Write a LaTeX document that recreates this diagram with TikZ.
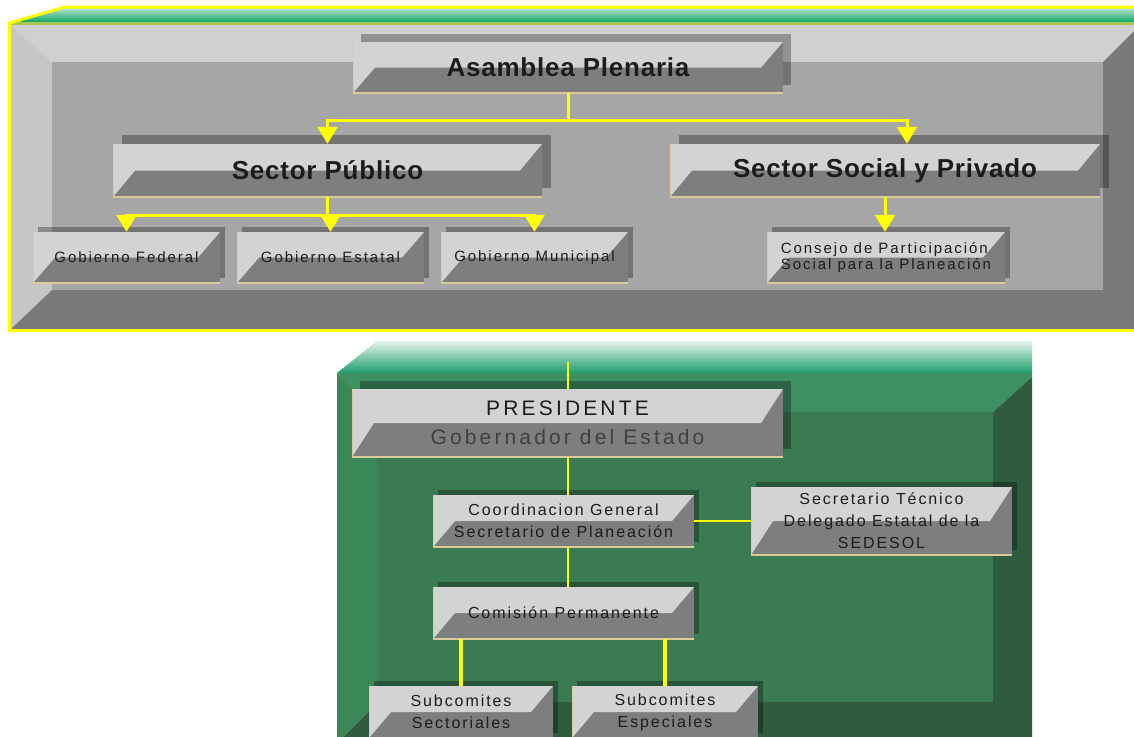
\documentclass[tikz,border=0pt]{standalone}
\usepackage{fontspec}
\setmainfont{Liberation Sans}
\usetikzlibrary{arrows.meta,shadows,calc}
\definecolor{blight}{HTML}{D3D3D3}
\definecolor{bdark}{HTML}{7E7E7E}
\definecolor{bedge}{HTML}{D9CC99}
\definecolor{yel}{HTML}{FFFF00}
\definecolor{txt}{HTML}{1C1C1C}
\definecolor{band1}{HTML}{B8E4CC}
\definecolor{band2}{HTML}{00A060}
\definecolor{bandline}{HTML}{A8C850}
\definecolor{gtop}{HTML}{D0D0D0}
\definecolor{gleft}{HTML}{C6C6C6}
\definecolor{gdark}{HTML}{7A7A7A}
\definecolor{gface}{HTML}{A6A6A6}
\definecolor{gband1}{HTML}{E4F3EA}
\definecolor{gband2}{HTML}{1E9E6C}
\definecolor{gga}{HTML}{3E9062}
\definecolor{ggb}{HTML}{3A8858}
\definecolor{ggc}{HTML}{2F5B3F}
\definecolor{ggd}{HTML}{3A7B51}
\newcommand\hdrfont{\fontsize{26}{28}\selectfont\bfseries\addfontfeature{LetterSpace=3}}
\newcommand\smfont{\fontsize{15}{15.5}\selectfont\addfontfeature{LetterSpace=13}}
\newcommand\mdfont{\fontsize{16}{22}\selectfont\addfontfeature{LetterSpace=12}}
\newcommand\lgfont{\fontsize{21}{29}\selectfont\addfontfeature{LetterSpace=15}}
\tikzset{
  bev/.style={rectangle, inner sep=0pt, fill=bdark, text=txt, align=center,
    path picture={
      \fill[blight] (path picture bounding box.north west) -- (path picture bounding box.north east)
        -- ([xshift=-22pt]path picture bounding box.east) -- ([xshift=22pt]path picture bounding box.west)
        -- (path picture bounding box.south west) -- cycle;
      \draw[bedge, line width=1.5pt] (path picture bounding box.north west) -- (path picture bounding box.south west)
        -- (path picture bounding box.south east);
    }},
  shad/.style={general shadow={fill=black, opacity=.3, shadow xshift=#1, shadow yshift=#1}},
  yl/.style={draw=yel, line width=3pt},
  ythin/.style={draw=yel, line width=2pt},
  ythick/.style={draw=yel, line width=4pt},
  ya/.style={yl, -{Triangle[width=20pt,length=17pt]}},
}
\begin{document}
\begin{tikzpicture}[x=1pt,y=-1pt]
\useasboundingbox (0,0) rectangle (1134,736);
\clip (0,0) rectangle (1134,736);
\fill[white] (0,0) rectangle (1134,736);
% ---------- top panel ----------
\shade[top color=band1, bottom color=band2] (65,8) -- (1134,8) -- (1134,23) -- (10,23) -- cycle;
\fill[bandline] (10,22) rectangle (1134,25);
\fill[gtop] (10,25) -- (1134,25) -- (1134,31) -- (1103,62) -- (52,62) -- cycle;
\fill[gleft] (10,25) -- (52,62) -- (52,290) -- (10,330) -- cycle;
\fill[gdark] (10,330) -- (52,290) -- (1103,290) -- (1103,62) -- (1134,31) -- (1134,330) -- cycle;
\fill[gface] (52,62) rectangle (1103,290);
\draw[yel, line width=3pt] (1134,7) -- (65,7) -- (9.5,23) -- (9.5,330.5) -- (1134,330.5);
% ---------- bottom panel ----------
\shade[top color=gband1, bottom color=gband2] (377,341) -- (1032,341) -- (1032,373) -- (337,373) -- cycle;
\fill[gga] (337,373) -- (1032,373) -- (1032,377) -- (993,412) -- (378,412) -- cycle;
\fill[ggb] (337,373) -- (378,412) -- (378,702) -- (337,743) -- cycle;
\fill[ggc] (337,743) -- (378,702) -- (993,702) -- (993,412) -- (1032,377) -- (1032,743) -- cycle;
\fill[ggd] (378,412) rectangle (993,702);
% ---------- nodes: top ----------
\node[bev, shad=8pt, minimum width=430pt, minimum height=51pt, font=\hdrfont] (asamblea) at (568,67.5) {Asamblea Plenaria};
\node[bev, shad=9pt, minimum width=429pt, minimum height=53pt, font=\hdrfont] (sp) at (327.5,170.5) {Sector Público};
\node[bev, shad=9pt, minimum width=430pt, minimum height=53pt, font=\hdrfont] (ssp) at (885,170.5) {Sector Social y Privado};
\node[bev, shad=5pt, minimum width=187pt, minimum height=51pt, font=\smfont] (gf) at (126.5,257.5) {Gobierno Federal};
\node[bev, shad=5pt, minimum width=187pt, minimum height=51pt, font=\smfont] (ge) at (330.5,257.5) {Gobierno Estatal};
\node[bev, shad=5pt, minimum width=187pt, minimum height=51pt, font=\smfont] (gm) at (534.5,257.5) {Gobierno Municipal};
\node[bev, shad=5pt, minimum width=238pt, minimum height=51pt, font=\smfont, align=left] (cons) at (886,257.5) {Consejo de Participación\\Social para la Planeación};
% ---------- nodes: bottom ----------
\node[bev, shad=8pt, minimum width=431pt, minimum height=68pt, font=\lgfont] (pres) at (567.5,423) {PRESIDENTE\\\textcolor[HTML]{404040}{Gobernador del Estado}};
\node[bev, shad=5pt, minimum width=261pt, minimum height=52pt, font=\mdfont] (coord) at (563.5,521) {Coordinacion General\\Secretario de Planeación};
\node[bev, shad=5pt, minimum width=261pt, minimum height=68pt, font=\mdfont, text depth=0pt] (sec) at (881.5,521) {Secretario Técnico\\Delegado Estatal de la\\SEDESOL};
\node[bev, shad=5pt, minimum width=261pt, minimum height=52pt, font=\mdfont] (com) at (563.5,613) {Comisión Permanente};
\node[bev, shad=5pt, minimum width=184pt, minimum height=52pt, font=\mdfont] (sub1) at (461,712) {Subcomites\\Sectoriales};
\node[bev, shad=5pt, minimum width=186pt, minimum height=52pt, font=\mdfont] (sub2) at (665,712) {Subcomites\\Especiales};
% ---------- connectors: top ----------
\coordinate (j1) at (568,120);
\draw[yl] (asamblea.south) -- (j1);
\draw[ya] (j1) -| (sp.north);
\draw[ya] (j1) -| ([xshift=22pt]ssp.north);
\coordinate (j2) at (327.5,215);
\draw[yl] (sp.south) -- (j2);
\draw[ya] (j2) -| (gf.north);
\draw[ya] (j2) -| (ge.north);
\draw[ya] (j2) -| (gm.north);
\draw[ya] (ssp.south) -- (ssp.south |- cons.north);
% ---------- connectors: bottom ----------
\coordinate (ptop) at (567.5,362);
\draw[ythin] (ptop) -- (pres.north);
\draw[ythin] (pres.south) -- (pres.south |- coord.north);
\draw[ythin] (coord.east) -- (sec.west);
\draw[ythin] (coord.south -| pres.south) -- (com.north -| pres.south);
\draw[ythick] (sub1.north |- com.south) -- (sub1.north);
\draw[ythick] (sub2.north |- com.south) -- (sub2.north);
\end{tikzpicture}
\end{document}
